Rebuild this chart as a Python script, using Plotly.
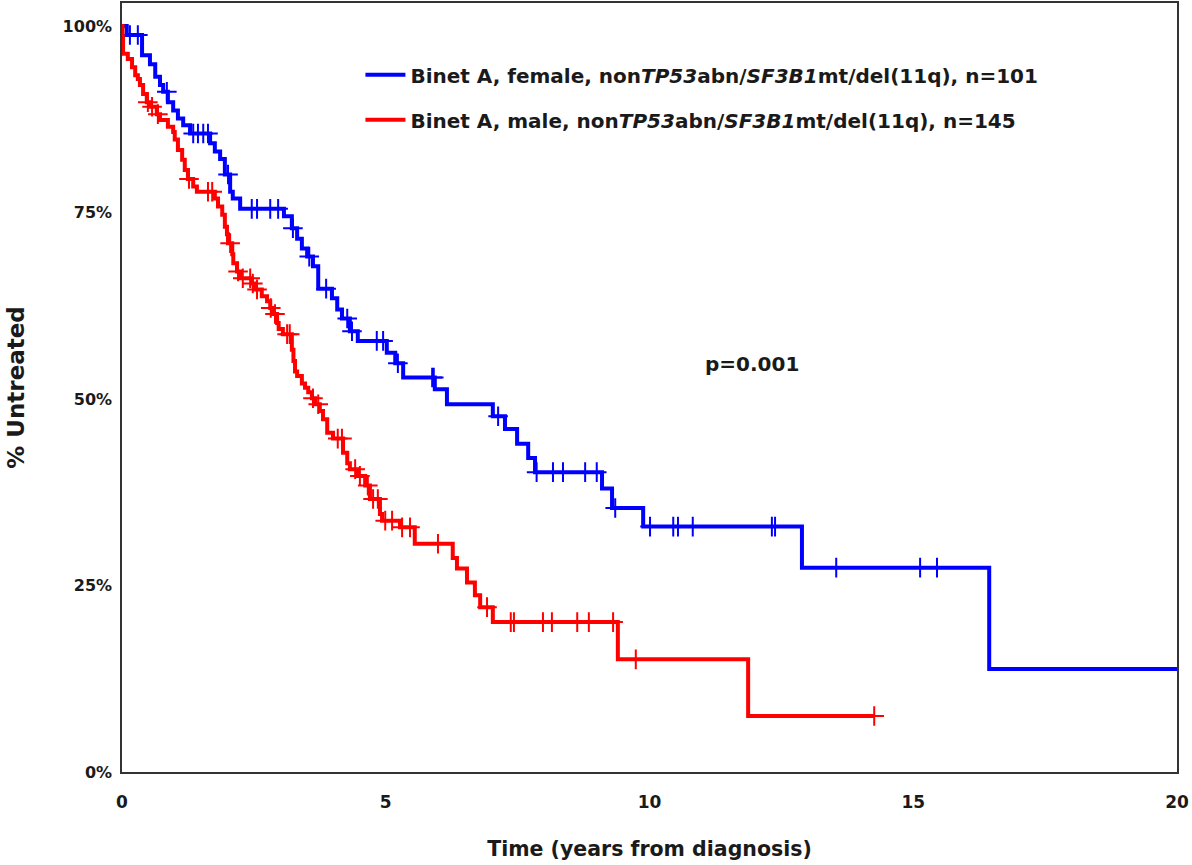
import numpy as np
import plotly.graph_objects as go

# Kaplan-Meier estimates: time to first treatment (years) vs % untreated
female_t = [0, 0.09, 0.38, 0.53, 0.63, 0.72, 0.78, 0.87, 0.97, 1.06, 1.16, 1.29,
            1.67, 1.76, 1.86, 1.95, 2.05, 2.10, 2.24, 3.07, 3.22, 3.32, 3.41, 3.51,
            3.62, 3.72, 3.98, 4.08, 4.17, 4.32, 4.47, 5.02, 5.18, 5.33, 5.93, 6.16,
            7.03, 7.26, 7.49, 7.70, 7.83, 9.10, 9.29, 9.88, 12.89, 16.44, 20.0]
female_s = [100, 98.8, 96.1, 94.9, 93.2, 92.1, 91.2, 89.8, 88.7, 87.6, 86.7, 85.6,
            84.3, 83.2, 82.2, 80.1, 77.8, 76.9, 75.5, 74.5, 72.9, 71.5, 70.2, 69.1,
            67.8, 64.8, 63.5, 62.0, 60.8, 59.1, 57.8, 56.2, 54.8, 52.9, 51.3, 49.3,
            47.7, 46.0, 44.0, 42.1, 40.2, 38.0, 35.4, 32.9, 27.4, 13.8, 13.8]
female_cens = [0.15, 0.30, 0.85, 1.35, 1.44, 1.54, 1.63, 2.01, 2.46, 2.56, 2.81, 2.96,
               3.24, 3.55, 3.87, 4.27, 4.36, 4.83, 4.95, 5.23, 5.88, 5.91, 7.13, 7.86,
               8.17, 8.36, 8.78, 9.00, 9.35, 10.01, 10.45, 10.54, 10.82, 12.32, 12.38,
               13.54, 15.13, 15.45]

male_t = [0, 0.01, 0.02, 0.11, 0.19, 0.25, 0.30, 0.34, 0.40, 0.47, 0.53, 0.66, 0.72,
          0.87, 0.97, 1.00, 1.06, 1.14, 1.19, 1.25, 1.35, 1.42, 1.76, 1.82, 1.90,
          1.95, 1.99, 2.01, 2.09, 2.11, 2.18, 2.24, 2.46, 2.52, 2.65, 2.75, 2.81,
          2.86, 2.94, 2.97, 3.05, 3.22, 3.25, 3.28, 3.32, 3.41, 3.47, 3.53, 3.60,
          3.66, 3.75, 3.81, 3.89, 4.00, 4.19, 4.27, 4.32, 4.47, 4.61, 4.70, 4.89,
          4.93, 5.27, 5.55, 6.27, 6.35, 6.54, 6.69, 6.79, 7.03, 9.40, 11.87, 14.26]
male_s = [100, 98.5, 96.3, 95.6, 94.5, 93.4, 92.9, 92.1, 90.9, 89.8, 89.2, 88.2, 87.4,
          86.5, 85.8, 84.8, 83.4, 82.1, 80.7, 79.5, 78.5, 77.8, 76.9, 75.8, 74.7,
          73.1, 72.1, 70.9, 69.4, 68.2, 67.1, 66.2, 65.5, 64.7, 63.8, 63.1, 62.2,
          61.4, 60.2, 59.4, 58.7, 56.6, 55.1, 53.7, 53.1, 52.1, 51.5, 50.9, 50.1,
          49.3, 48.4, 47.3, 45.5, 44.7, 42.8, 41.4, 40.6, 39.7, 38.4, 36.6, 34.6,
          33.7, 32.8, 30.6, 28.7, 27.3, 25.4, 23.7, 22.1, 20.1, 15.1, 7.5, 7.5]
male_cens = [0.49, 0.57, 0.68, 1.27, 1.63, 1.71, 2.05, 2.20, 2.29, 2.43, 2.48, 2.56,
             2.82, 2.90, 3.13, 3.18, 3.62, 3.72, 4.09, 4.17, 4.42, 4.51, 4.66, 4.76,
             4.85, 4.99, 5.12, 5.31, 5.46, 5.99, 6.92, 7.37, 7.43, 7.98, 8.15, 8.63,
             8.85, 9.31, 9.74, 14.26]

female_name = "<b>Binet A, female, non<i>TP53</i>abn/<i>SF3B1</i>mt/del(11q), n=101</b>"
male_name = "<b>Binet A, male, non<i>TP53</i>abn/<i>SF3B1</i>mt/del(11q), n=145</b>"

x_ticks = [0, 5, 10, 15, 20]
x_tick_text = ["0", "5", "10", "15", "20"]
y_ticks = [0, 25, 50, 75, 100]
y_tick_text = ["0%", "25%", "50%", "75%", "100%"]

BLUE = "#0000FF"
RED = "#FF0000"
FONT = "DejaVu Sans"
TEXT = "#1a1a1a"


def step_value(times, surv, at):
    """Value of the right-continuous step function at the given times."""
    idx = np.searchsorted(np.asarray(times), np.asarray(at), side="right") - 1
    return np.asarray(surv)[idx]


def bold(labels):
    return ["<b>" + s + "</b>" for s in labels]


fig = go.Figure()
for grp, (t, s, c, col, name) in enumerate([(female_t, female_s, female_cens, BLUE, female_name),
                                            (male_t, male_s, male_cens, RED, male_name)]):
    fig.add_trace(go.Scatter(x=t, y=s, mode="lines", line=dict(color=col, width=4, shape="hv"),
                             name=name, legendgroup=f"g{grp}"))
    fig.add_trace(go.Scatter(x=c, y=step_value(t, s, c), mode="markers", showlegend=False,
                             legendgroup=f"g{grp}",
                             marker=dict(symbol="cross-thin", size=14,
                                         line=dict(color=col, width=2))))

fig.add_annotation(x=11.95, y=54.7, text="<b>p=0.001</b>", showarrow=False,
                   font=dict(family=FONT, size=20, color=TEXT))

fig.update_layout(
    width=1192, height=865,
    margin=dict(l=122, r=15, t=1, b=93),
    paper_bgcolor="white", plot_bgcolor="white",
    font=dict(family=FONT, color=TEXT),
    showlegend=True,
    legend=dict(x=0.226, y=0.932, xanchor="left", yanchor="top",
                bgcolor="rgba(0,0,0,0)", font=dict(family=FONT, size=20, color=TEXT),
                tracegroupgap=16, itemwidth=40),
    xaxis=dict(range=[0, 20], tickvals=x_ticks, ticktext=bold(x_tick_text), showgrid=False,
               zeroline=False, showline=True, linecolor="#333333", linewidth=1.5, mirror=True,
               ticks="", ticklabelstandoff=14,
               tickfont=dict(family=FONT, size=17, color=TEXT),
               title=dict(text="<b>Time (years from diagnosis)</b>", standoff=30,
                          font=dict(family=FONT, size=20.5, color=TEXT))),
    yaxis=dict(range=[0, 103.1], tickvals=y_ticks, ticktext=bold(y_tick_text), showgrid=False,
               zeroline=False, showline=True, linecolor="#333333", linewidth=1.5,
               mirror=True, ticks="", ticklabelstandoff=5,
               tickfont=dict(family=FONT, size=16, color=TEXT),
               title=dict(text="<b>% Untreated</b>", standoff=32,
                          font=dict(family=FONT, size=23, color=TEXT))),
)

fig.write_html("out.html")
